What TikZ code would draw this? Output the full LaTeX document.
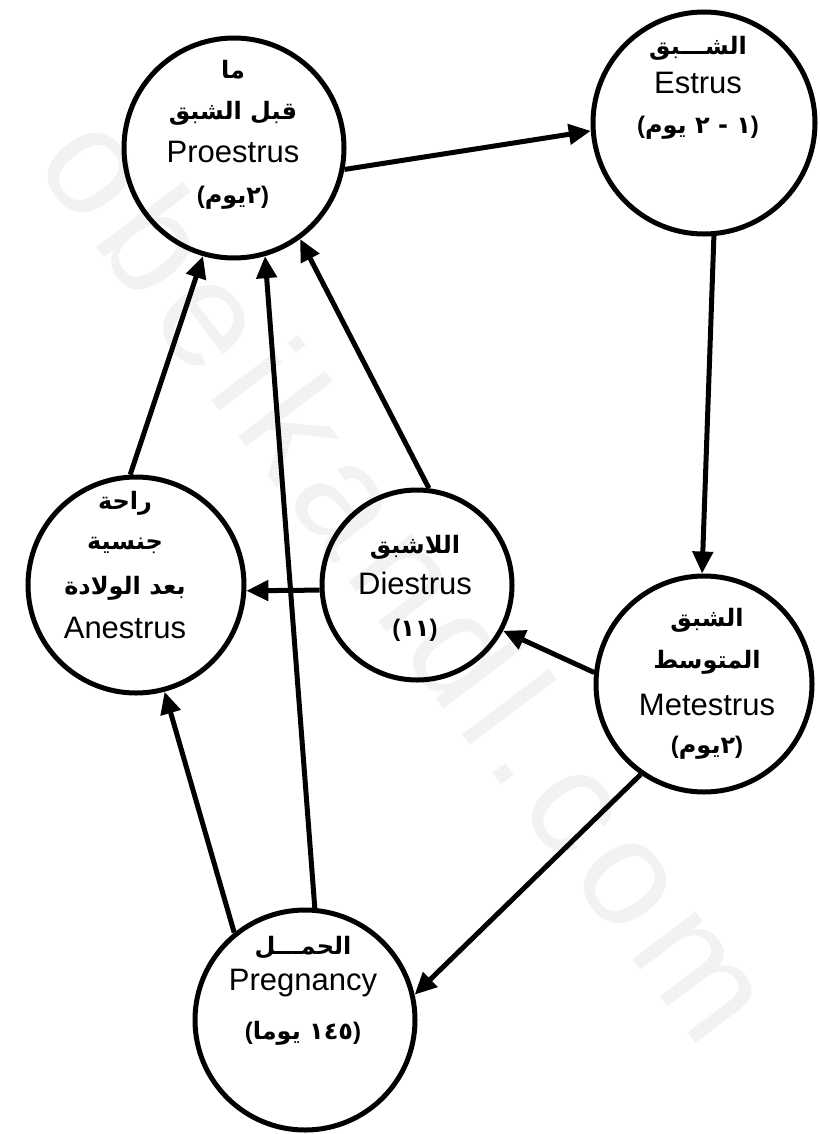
\documentclass[tikz,border=0pt]{standalone}
\usepackage{fontspec}
\setmainfont{Liberation Sans}
\newfontfamily\arabicfont[Script=Arabic]{DejaVu Sans}
\TeXXeTstate=1
\usetikzlibrary{arrows.meta}
\newcommand{\artxt}[1]{{\arabicfont\bfseries\beginR #1\endR}}
\newcommand{\lp}{{\normalfont\bfseries(}}
\newcommand{\rp}{{\normalfont\bfseries)}}
\begin{document}
\begin{tikzpicture}[x=1pt,y=1pt,
  stage/.style={circle,draw,line width=5pt,inner sep=0pt,minimum size=#1},
  lat/.style={font=\fontsize{31}{36}\selectfont,inner sep=0pt},
  arb/.style={font=\arabicfont\bfseries\fontsize{24}{28}\selectfont,inner sep=0pt},
  flow/.style={line width=5pt,-{Triangle[length=22pt,width=20pt]}},
  wm/.style={font=\fontsize{150}{150}\selectfont\addfontfeature{LetterSpace=8},text=black!5,rotate=-53}]
\useasboundingbox (0,0) rectangle (819,-1134);
\node[wm] (wmark) at (410,-575) {obeikandl.com};
% circles
\node[stage=220pt] (pro) at (234,-148) {};
\node[stage=222pt] (est) at (704,-123) {};
\node[stage=216pt] (ane) at (136,-585) {};
\node[stage=190pt] (die) at (417,-585) {};
\node[stage=216pt] (met) at (704,-684) {};
\node[stage=220pt] (preg) at (305,-1020) {};
% Proestrus
\node[arb] (pro1) at (233,-70) {\artxt{ما}};
\node[arb] (pro2) at (233,-113) {\artxt{قبل الشبق}};
\node[lat] (pro3) at (233,-152) {Proestrus};
\node[arb] (pro4) at (233,-198) {\lp\artxt{٢يوم}\rp};
% Estrus
\node[arb] (est1) at (698,-48) {\artxt{الشـــبق}};
\node[lat] (est2) at (698,-83) {Estrus};
\node[arb] (est3) at (698,-128) {\lp\artxt{١ - ٢ يوم}\rp};
% Anestrus
\node[arb] (ane1) at (125,-503) {\artxt{راحة}};
\node[arb] (ane2) at (125,-545) {\artxt{جنسية}};
\node[arb] (ane3) at (125,-588) {\artxt{بعد الولادة}};
\node[lat] (ane4) at (125,-628) {Anestrus};
% Diestrus
\node[arb] (die1) at (415,-547) {\artxt{اللاشبق}};
\node[lat] (die2) at (415,-583) {Diestrus};
\node[arb] (die3) at (415,-630) {\lp\artxt{١١}\rp};
% Metestrus
\node[arb] (met1) at (707,-620) {\artxt{الشبق}};
\node[arb] (met2) at (707,-662) {\artxt{المتوسط}};
\node[lat] (met3) at (707,-705) {Metestrus};
\node[arb] (met4) at (707,-748) {\lp\artxt{٢يوم}\rp};
% Pregnancy
\node[arb] (preg1) at (303,-948) {\artxt{الحمـــل}};
\node[lat] (preg2) at (303,-983) {Pregnancy};
\node[arb] (preg3) at (303,-1033) {\lp\artxt{١٤٥ يوما}\rp};
% arrows
\draw[flow] (pro.-11.5) -- (est.184.6);
\draw[flow] (est.-85.4) -- (met.91);
\draw[flow] (met.174) -- (die.-28);
\draw[flow] (die.183) -- (ane.-3);
\draw[flow] (die.83.4) -- (pro.-54);
\draw[flow] (ane.93) -- (pro.-106.4);
\draw[flow] (preg.85.8) -- (pro.-74.9);
\draw[flow] (preg.129.5) -- (ane.-75.2);
\draw[flow] (met.235.7) -- (preg.13.2);
\end{tikzpicture}
\end{document}
